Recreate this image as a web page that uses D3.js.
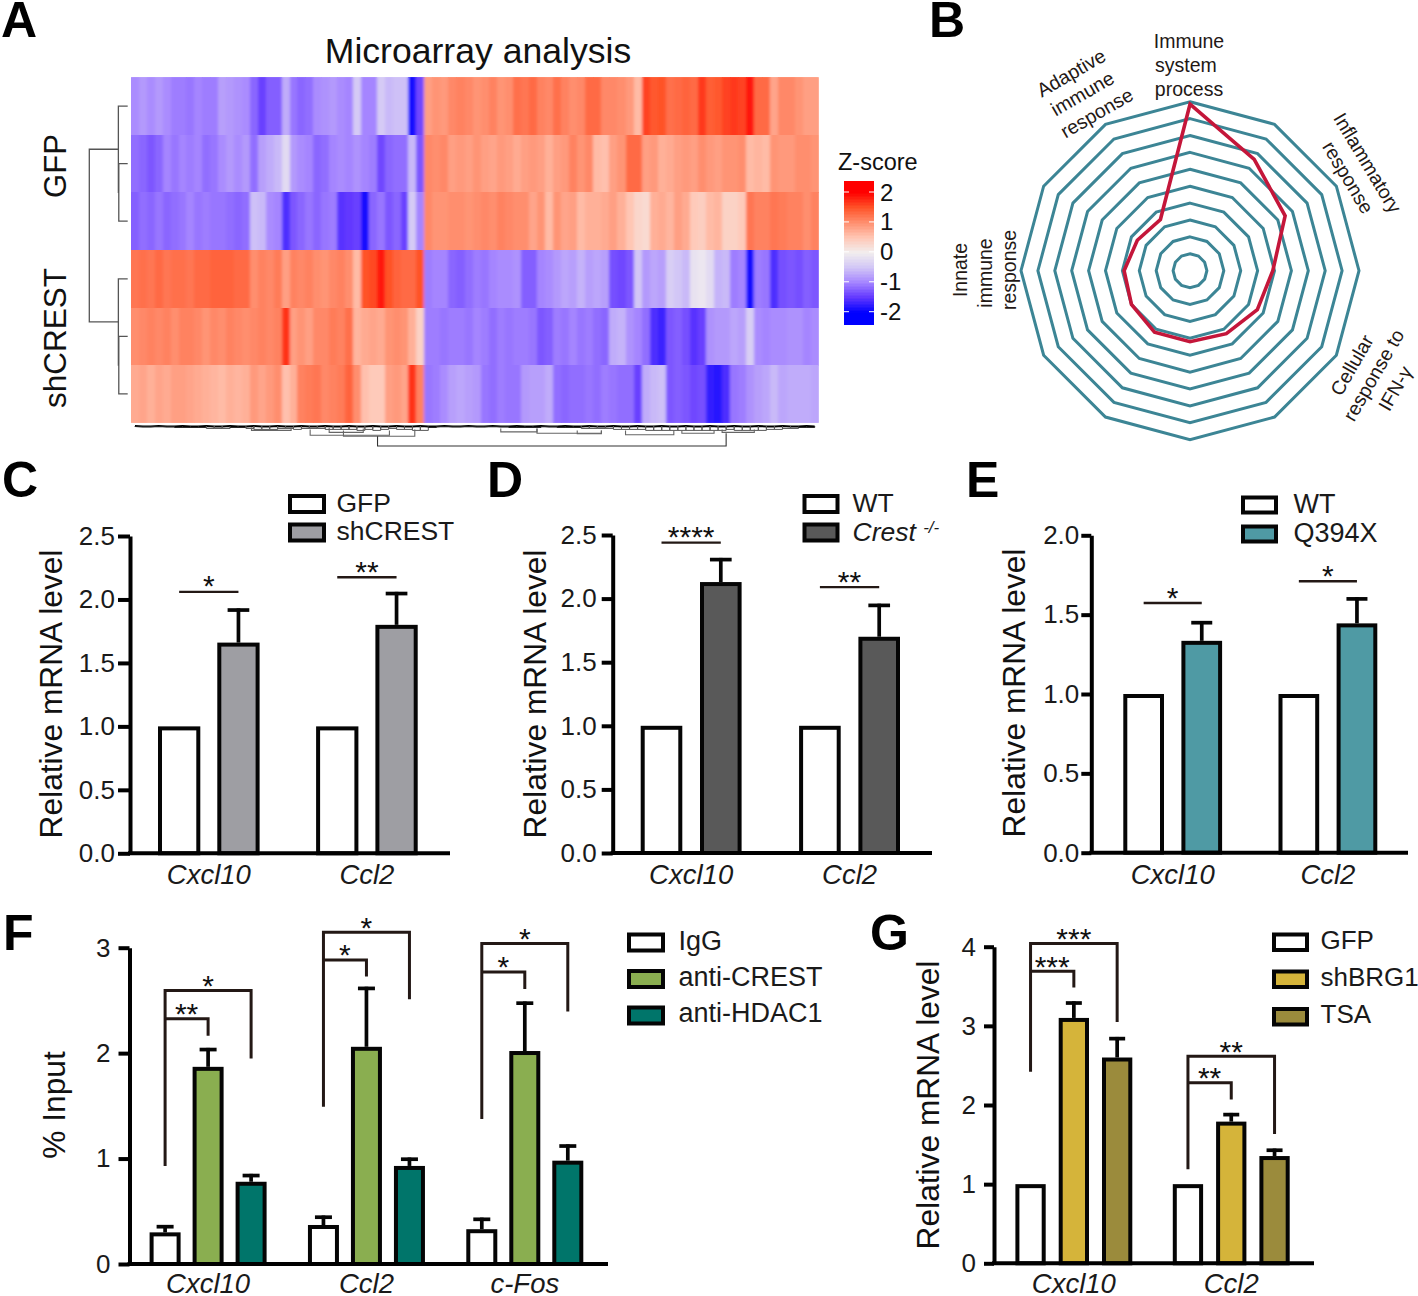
<!DOCTYPE html>
<html><head><meta charset="utf-8">
<script src="https://cdn.jsdelivr.net/npm/d3@7"></script>
<style>
html,body{margin:0;padding:0;background:#fff}
svg{display:block}
text{font-family:"Liberation Sans",Arial,sans-serif;fill:#1a1a1a}
</style></head><body>
<svg id="c" width="1418" height="1296"></svg>
<script>
// ---------- Heatmap data (z-scores, one value per gene bin) ----------
const heatRowLabels = ["GFP1","GFP2","GFP3","shCREST1","shCREST2","shCREST3"];
const heatGFP1 = [-0.95,-0.85,-0.95,-0.85,-0.95,-1.05,-1.05,-1.1,-1.0,-1.05,-1.05,-0.8,-0.85,-0.9,-0.95,-1.2,-1.45,-1.25,-1.25,-0.7,-1.1,-1.2,-1.15,-0.95,-0.9,-0.85,-0.95,-1.0,-0.45,-1.0,-1.0,-0.45,-0.6,-0.55,-0.55,-1.9,-1.4,
 0.85,0.95,0.9,1.05,1.1,1.05,0.95,1.0,1.1,0.95,1.0,1.25,1.2,1.3,1.1,1.05,1.25,1.1,1.0,1.05,1.3,1.3,1.05,1.05,1.0,0.9,0.6,1.6,1.45,1.5,1.25,1.3,1.35,1.3,1.65,1.4,1.45,1.6,1.65,1.6,1.85,1.3,1.3,0.8,1.05,1.05,0.95,0.85,0.85];
const heatGFP2 = [-1.15,-1.2,-1.3,-1.2,-1.0,-1.1,-1.0,-1.05,-1.0,-1.15,-1.1,-0.95,-0.85,-0.95,-0.85,-1.15,-0.8,-0.7,-0.6,-0.25,-0.85,-0.95,-1.0,-1.2,-1.15,-1.0,-0.95,-1.0,-0.9,-1.0,-1.05,-1.4,-1.2,-1.15,-1.15,-0.6,-1.3,
 1.05,1.0,1.05,0.85,0.9,0.85,0.95,0.85,0.8,0.9,0.85,0.75,0.85,0.9,0.85,0.7,0.85,0.9,1.1,0.95,1.05,0.6,0.55,0.85,0.95,1.3,1.3,0.85,0.9,0.7,0.75,0.85,0.9,0.85,1.0,0.9,0.85,0.95,0.95,1.0,0.6,0.65,0.6,0.95,0.9,0.9,1.0,1.0,0.95];
const heatGFP3 = [-1.25,-1.15,-1.2,-1.1,-1.2,-1.15,-1.1,-1.0,-1.1,-1.05,-1.1,-1.1,-1.15,-1.2,-1.15,-0.55,-0.6,-0.95,-1.0,-1.6,-1.3,-1.2,-1.1,-1.2,-1.1,-1.05,-1.55,-1.5,-1.45,-1.9,-1.2,-1.1,-1.3,-1.2,-1.45,-0.45,-1.0,
 1.05,0.95,0.95,1.0,1.0,0.95,1.0,1.05,1.0,1.1,1.05,1.0,1.0,0.8,0.95,0.6,0.95,0.8,0.85,0.6,0.7,0.7,0.75,0.85,0.7,0.5,0.3,0.25,0.7,0.75,0.65,0.85,0.75,0.45,0.4,0.6,0.65,0.35,0.35,0.45,1.2,1.1,1.1,1.2,1.15,1.1,1.1,1.0,1.1];
const heatSh1 = [1.2,1.25,1.2,1.3,1.2,1.25,1.25,1.2,1.3,1.3,1.35,1.35,1.35,1.3,1.3,1.0,1.1,1.05,1.15,0.85,1.1,1.05,1.1,1.0,0.95,1.05,1.1,1.0,0.6,1.5,1.55,1.85,1.5,1.35,1.3,1.3,1.5,
 -1.05,-1.0,-1.0,-1.2,-1.25,-1.15,-1.05,-1.1,-1.0,-0.95,-0.95,-0.9,-1.25,-1.25,-1.0,-0.95,-0.85,-0.75,-0.8,-0.65,-0.8,-0.75,-0.8,-1.35,-1.4,-1.3,-0.5,-0.85,-0.75,-0.8,-0.4,-0.5,-0.6,-0.15,-0.1,-0.25,-0.65,-0.6,-1.05,-1.0,-1.9,-1.05,-1.1,-1.6,-1.35,-1.3,-1.35,-1.25,-1.3];
const heatSh2 = [1.0,1.05,1.1,1.05,1.1,1.0,1.1,1.1,1.05,0.95,1.05,1.0,1.1,1.05,1.0,1.05,1.1,1.05,1.1,1.7,0.85,0.95,0.85,1.05,1.05,1.15,1.1,1.25,0.65,0.75,0.8,0.75,0.95,1.0,0.95,0.7,0.35,
 -1.05,-1.05,-1.1,-1.05,-1.05,-1.1,-1.0,-1.05,-1.15,-1.05,-1.1,-1.05,-1.05,-1.1,-1.3,-1.25,-1.05,-1.1,-1.0,-1.1,-1.05,-1.15,-1.2,-0.7,-0.65,-0.9,-1.0,-1.15,-1.6,-1.7,-1.3,-1.25,-1.35,-1.55,-1.45,-0.9,-0.85,-0.85,-0.75,-0.8,-0.4,-0.95,-1.0,-0.95,-0.95,-0.9,-0.9,-1.0,-0.95];
const heatSh3 = [0.75,0.8,0.7,0.8,0.75,0.85,0.85,0.8,0.75,0.7,0.65,0.6,0.7,0.65,0.7,0.9,0.8,0.9,1.0,0.55,0.7,1.1,1.15,1.2,1.05,1.1,1.15,1.35,1.0,0.55,0.45,0.45,0.85,0.9,0.8,1.7,1.1,
 -1.1,-1.05,-0.95,-0.8,-0.75,-0.8,-0.85,-1.1,-1.15,-1.05,-1.1,-1.1,-0.85,-0.8,-0.8,-0.7,-1.15,-1.2,-1.15,-1.15,-1.1,-1.15,-1.05,-1.1,-1.15,-1.15,-1.45,-0.7,-0.6,-0.55,-1.3,-1.25,-1.3,-1.4,-1.35,-1.75,-1.8,-1.6,-1.1,-1.05,-0.9,-0.8,-0.75,-0.6,-0.75,-0.7,-0.7,-0.7,-0.75];
const heatRows = [heatGFP1,heatGFP2,heatGFP3,heatSh1,heatSh2,heatSh3];
const zStops = [-2,-1.5,-1,-0.5,0,0.5,1,1.5,2];
const zColors = ["#0000ff","#6238ff","#a585ff","#d2c6f6","#f2eeee","#ffc6b4","#ff8e6e","#ff5228","#ff0000"];
const zTicks = [2,1,0,-1,-2];
// column-dendrogram: merge height of neighbouring leaves, and upper merges [from,to,height,leftDrop,rightDrop]
const leafHeights = [1,1,1,1,1,2,2,2,2,3,3,3,2,2,3,4,4,4,3,3,4,3,3,3,4,4,4,4,5,4,5,4,3,4,4,5,5,
 2,1,1,1,1,1,1,1,1,1,2,2,2,2,1,1,2,2,2,3,3,3,3,4,4,4,4,5,5,5,5,5,5,5,5,5,5,4,5,5,5,5,4,4,3,3,2,2,1];
const upperMerges = [[15.2,20.2,5,2,2],[25,29.3,7,2,3],[22.6,32.6,10,4,5],[26.8,35.8,11,5,4],
 [46.5,51,6.5,3,3],[51,59,8,3,5],[56,59,8.5,5,5],[62,68,9.5,5,5],[69,73,8,5,5],[74,78,7,4,4],
 [31.1,74.5,21,11,8]];
const rowDendro = [[0,1.5,11,0,6],[1,2,8,0,0],[3,4.5,11,0,6],[4,5,8,0,0]];
const rowTree = [1,4,28];

// ---------- Radar data ----------
const radarValues = [9.85,7.6,6.5,4.9,4.6,4.3,4.2,4.2,4.0,3.9,3.6,3.5];
const radarRings = [1,2,3,4,5,6,7,8,9,10];
const radarSpokes = [0,1,2,3,4,5,6,7,8,9,10,11];

// ---------- Bar panels data ----------
const cGroups=["Cxcl10","Ccl2"], cSeries=["GFP","shCREST"];
const cValues=[[1,1.66],[1,1.8]], cErrors=[[null,1.93],[null,2.06]], cTicks=[0,0.5,1,1.5,2,2.5];
const dGroups=["Cxcl10","Ccl2"], dSeries=["WT","Crest"];
const dValues=[[1,2.13],[1,1.7]], dErrors=[[null,2.32],[null,1.96]], dTicks=[0,0.5,1,1.5,2,2.5];
const eGroups=["Cxcl10","Ccl2"], eSeries=["WT","Q394X"];
const eValues=[[1,1.335],[1,1.445]], eErrors=[[null,1.46],[null,1.61]], eTicks=[0,0.5,1,1.5,2];
const fGroups=["Cxcl10","Ccl2","c-Fos"], fSeries=["IgG","anti-CREST","anti-HDAC1"];
const fValues=[[0.3,1.87,0.78],[0.37,2.06,0.93],[0.33,2.02,0.98]];
const fErrors=[[0.37,2.05,0.855],[0.46,2.63,1.01],[0.44,2.49,1.135]], fTicks=[0,1,2,3];
const gGroups=["Cxcl10","Ccl2"], gSeries=["GFP","shBRG1","TSA"];
const gValues=[[1,3.1,2.6],[1,1.79,1.355]], gErrors=[[null,3.31,2.86],[null,1.9,1.45]], gTicks=[0,1,2,3,4];

const cSig=[{g:0,a:0,b:1,y:2.06,s:"*"},{g:1,a:0,b:1,y:2.175,s:"**"}];
const dSig=[{g:0,a:0,b:1,y:2.44,s:"****"},{g:1,a:0,b:1,y:2.09,s:"**"}];
const eSig=[{g:0,a:0,b:1,y:1.573,s:"*"},{g:1,a:0,b:1,y:1.71,s:"*"}];
const fBrackets=[
 {g:0,b:2,top:2.593,left:0.93,right:1.95,s:"*",starAt:1},{g:0,b:1,top:2.325,left:2.325,right:2.166,s:"**",starAt:0.5},
 {g:1,b:2,top:3.147,left:1.492,right:2.511,s:"*",starAt:1},{g:1,b:1,top:2.884,left:2.884,right:2.726,s:"*",starAt:0.5},
 {g:2,b:2,top:3.039,left:1.376,right:2.394,s:"*",starAt:1},{g:2,b:1,top:2.77,left:2.77,right:2.609,s:"*",starAt:0.5}];
const gBrackets=[
 {g:0,b:2,top:4.04,left:2.42,right:3.05,s:"***",starAt:1},{g:0,b:1,top:3.69,left:3.69,right:3.485,s:"***",starAt:0.5},
 {g:1,b:2,top:2.617,left:1.187,right:1.633,s:"**",starAt:1},{g:1,b:1,top:2.28,left:2.28,right:2.07,s:"**",starAt:0.5}];

// ---------- Drawing ----------
const svg=d3.select("#c");
const ink="#050505", sigInk="#231815";
const addText=(t,x,y,size,o={})=>{
  const e=svg.append("text").attr("x",x).attr("y",y).attr("font-size",size).text(t);
  if(o.anchor)e.attr("text-anchor",o.anchor);
  if(o.weight)e.attr("font-weight",o.weight);
  if(o.style)e.attr("font-style",o.style);
  if(o.rotate!=null)e.attr("transform",`rotate(${o.rotate} ${x} ${y})`);
  if(o.central)e.attr("dominant-baseline","central");
  if(o.fill)e.style("fill",o.fill);
  return e;
};
// Panel letters
[["A",1,37],["B",929,37],["C",2,497],["D",487,497],["E",966,497],["F",3,950],["G",870,950]]
 .forEach(d=>addText(d[0],d[1],d[2],50,{weight:"bold",fill:"#000"}));

// ---- A: heatmap
const zColor=d3.scaleLinear().domain(zStops).range(zColors).clamp(true);
const nCols=heatRows[0].length, nLeft=37;
const xCol=d3.scaleLinear().domain([0,nLeft,nCols]).range([131,424.3,818.7]);
const yRow=d3.scaleBand().domain(d3.range(6)).range([77.3,422.7]);
const defs=svg.append("defs");
defs.append("filter").attr("id","soft").attr("filterUnits","userSpaceOnUse")
  .attr("x",120).attr("y",70).attr("width",710).attr("height",360)
  .append("feGaussianBlur").attr("stdDeviation","1.7 0.5");
defs.append("clipPath").attr("id","heatClip").append("rect")
  .attr("x",xCol(0)).attr("y",yRow(0)).attr("width",xCol(nCols)-xCol(0)).attr("height",yRow.bandwidth()*6);
const gHeat=svg.append("g").attr("clip-path","url(#heatClip)");
const gBase=gHeat.append("g").attr("shape-rendering","crispEdges");
const gSoft=gHeat.append("g").attr("filter","url(#soft)").attr("shape-rendering","crispEdges");
[gBase,gSoft].forEach(layer=>heatRows.forEach((row,r)=>{
  layer.selectAll(null).data(row).join("rect")
   .attr("x",(d,c)=>xCol(c)).attr("y",yRow(r))
   .attr("width",(d,c)=>xCol(c+1)-xCol(c)+0.4).attr("height",yRow.bandwidth()+0.4)
   .attr("fill",d=>zColor(d));
}));
addText("Microarray analysis",478,63,35.6,{anchor:"middle",fill:"#111"});
addText("GFP",66,166,31,{anchor:"middle",rotate:-90,fill:"#111"});
addText("shCREST",66,338,31.5,{anchor:"middle",rotate:-90,fill:"#111"});

// row dendrogram
const xTree=d3.scaleLinear().domain([0,28]).range([127.7,89.3]);
const rowCenter=i=>yRow(i)+yRow.bandwidth()/2;
const gTree=svg.append("g").attr("fill","none").attr("stroke","#555").attr("stroke-width",1.3);
[[1,2],[4,5]].forEach(p=>{
  const h=xTree(rowDendro[1][2]-1.5);
  gTree.append("path").attr("d",`M${xTree(0)},${rowCenter(p[0])}H${h}V${rowCenter(p[1])}H${xTree(0)}`);
  const mid=(rowCenter(p[0])+rowCenter(p[1]))/2, o=xTree(rowDendro[0][2]-4.2);
  gTree.append("path").attr("d",`M${xTree(0)},${rowCenter(p[0]-1)}H${o}V${mid}H${h}`);
});
const cl=i=>(rowCenter(i-1)+(rowCenter(i)+rowCenter(i+1))/2)/2;
gTree.append("path").attr("d",`M${xTree(rowDendro[0][2]-4.2)},${cl(rowTree[0])}H${xTree(rowTree[2])}V${cl(rowTree[1])}H${xTree(rowDendro[0][2]-4.2)}`);

// column dendrogram
const yD=d3.scaleLinear().domain([0,21]).range([425.5,446]);
const gD=svg.append("g").attr("fill","none");
gD.append("path").attr("stroke","#000").attr("stroke-width",2)
  .attr("d",d3.line().x((d,i)=>xCol(i+0.5)).y((d,i)=>yD(i%3===0?0.6:1))(leafHeights));
leafHeights.forEach((h,i)=>{
  if(i===nCols-1)return;
  gD.append("path").attr("stroke",h>2?"#555":"#222").attr("stroke-width",1)
   .attr("d",`M${xCol(i+0.5)},${yD(0.5)}V${yD(h)}H${xCol(i+1.5)}V${yD(0.5)}`);
});
upperMerges.forEach(m=>{
  gD.append("path").attr("stroke",m[2]>20?"#333":"#666").attr("stroke-width",1.1)
   .attr("d",`M${xCol(m[0])},${yD(m[3])}V${yD(m[2])}H${xCol(m[1])}V${yD(m[4])}`);
});

// colour key
const yKey=d3.scaleLinear().domain([2,-2]).range([192,311.7]);
const keySteps=d3.range(2.37,-2.42,-0.05);
svg.append("g").attr("shape-rendering","crispEdges").selectAll("rect").data(keySteps).join("rect")
  .attr("x",844).attr("width",30).attr("y",d=>yKey(d)).attr("height",yKey(0)-yKey(0.05)+0.5).attr("fill",d=>zColor(d));
zTicks.forEach(t=>{
  [[844,849],[869,874]].forEach(s=>svg.append("line").attr("x1",s[0]).attr("x2",s[1]).attr("y1",yKey(t)).attr("y2",yKey(t)).attr("stroke","#fff").attr("stroke-width",1));
  addText(t,880,yKey(t),24,{central:true,fill:"#111"});
});
addText("Z-score",838,170,23.5,{fill:"#111"});

// ---- B: radar
const rScale=d3.scaleLinear().domain([0,10]).range([0,169]);
const radar=svg.append("g").attr("transform","translate(1190,270.7)").attr("fill","none");
const spoke=d3.scaleLinear().domain([0,12]).range([0,2*Math.PI]);
const radial=d3.lineRadial().curve(d3.curveLinearClosed);
radar.selectAll(".ring").data(radarRings).join("path").attr("class","ring")
  .attr("d",k=>radial.angle((d,i)=>spoke(i)).radius(()=>rScale(k))(radarSpokes))
  .attr("stroke","#3c8595").attr("stroke-width",3);
radar.append("path").attr("d",radial.angle((d,i)=>spoke(i)).radius(d=>rScale(d))(radarValues))
  .attr("stroke","#c4163a").attr("stroke-width",3.6).attr("stroke-linejoin","miter");
const radarFont=19.5, rIn="#231815";
[["Immune",1189,41,0],["system",1186,65,0],["process",1189,89,0],
 ["Adaptive",1071,72.7,-30],["immune",1082.3,93.3,-30],["response",1096.7,112.7,-30],
 ["Inflammatory",1367.7,162.7,59],["response",1348.3,177.3,59],
 ["Cellular",1351.7,365,-60],["response to",1373.3,375,-60],["IFN-γ",1395,388.3,-60],
 ["Innate",960,270,-90],["immune",985,273,-90],["response",1009,270,-90]]
 .forEach(d=>addText(d[0],d[1],d[2],radarFont,{anchor:"middle",central:true,rotate:d[3],fill:rIn}));

// ---- Bar panel helper
function barPanel(o){
  const g=svg.append("g");
  const n=o.series.length, pairW=n*o.barW+(n-1)*o.gap, pitch=(o.barR-o.barL-pairW)/(o.groups.length-1);
  const x0=d3.scaleBand().domain(o.groups).range([o.barL,o.barR]).paddingInner(1-pairW/pitch).paddingOuter(0);
  const x1=d3.scaleBand().domain(d3.range(n)).range([0,pairW]).paddingInner(o.gap/(o.barW+o.gap));
  const y=d3.scaleLinear().domain([0,o.ticks[o.ticks.length-1]]).range([o.y0,o.yTop]);
  const sw=o.sw||4, cx=(gi,s)=>x0(o.groups[gi])+x1(s)+x1.bandwidth()/2;
  // bars and errors
  o.values.forEach((vals,gi)=>vals.forEach((v,s)=>{
    const e=o.errors[gi][s], X=cx(gi,s);
    if(e!=null){
      g.append("line").attr("x1",X).attr("x2",X).attr("y1",y(v)).attr("y2",y(e)).attr("stroke",ink).attr("stroke-width",sw-0.3);
      g.append("line").attr("x1",X-o.capW/2).attr("x2",X+o.capW/2).attr("y1",y(e)+1.7).attr("y2",y(e)+1.7).attr("stroke",ink).attr("stroke-width",sw-0.3);
    }
    g.append("rect").attr("x",X-x1.bandwidth()/2+sw/2).attr("y",y(v)+sw/2)
     .attr("width",x1.bandwidth()-sw).attr("height",o.y0-y(v)-sw/2)
     .attr("fill",o.fills[s]).attr("stroke",ink).attr("stroke-width",sw);
  }));
  // axes
  const ya=g.append("g").attr("transform",`translate(${o.axisX},0)`)
    .call(d3.axisLeft(y).tickValues(o.ticks).tickSize(o.tickLen).tickPadding(o.tickPad).tickSizeOuter(0).tickFormat(o.fmt));
  ya.selectAll("path,line").attr("stroke","#000").attr("stroke-width",sw);
  ya.selectAll("text").attr("font-size",o.tickFont||26).style("font-family",'"Liberation Sans",Arial,sans-serif').style("fill","#1a1a1a");
  const xa=g.append("g").attr("transform",`translate(0,${o.y0})`)
    .call(d3.axisBottom(x0).tickSize(0).tickPadding(0));
  xa.select(".domain").remove();
  xa.selectAll("text").attr("y",o.catDy).attr("dy",0).attr("font-size",27.5).attr("font-style","italic").style("font-family",'"Liberation Sans",Arial,sans-serif').style("fill","#1a1a1a");
  g.append("line").attr("x1",o.axisX-sw/2).attr("x2",o.xEnd).attr("y1",o.y0).attr("y2",o.y0).attr("stroke","#000").attr("stroke-width",sw);
  // title
  addText(o.title,o.titleX,o.titleY,31.7,{anchor:"middle",rotate:-90,fill:"#111"});
  // significance lines
  (o.sig||[]).forEach(s=>{
    const a=cx(s.g,s.a), b=cx(s.g,s.b);
    g.append("line").attr("x1",a).attr("x2",b).attr("y1",y(s.y)).attr("y2",y(s.y)).attr("stroke",sigInk).attr("stroke-width",2.4);
    star(s.s,(a+b)/2,y(s.y)-12);
  });
  // brackets
  (o.brackets||[]).forEach(s=>{
    const a=cx(s.g,0), b=cx(s.g,s.b);
    g.append("path").attr("fill","none").attr("stroke",sigInk).attr("stroke-width",3)
     .attr("d",`M${a},${y(s.left)}V${y(s.top)}H${b}V${y(s.right)}`);
    const at=s.starAt===1?cx(s.g,1):(cx(s.g,0)+cx(s.g,1))/2;
    star(s.s,at,y(s.top)-11);
  });
  // legend
  o.series.forEach((name,i)=>{
    const L=o.legend, fs=L.fs||26.5;
    g.append("rect").attr("x",L.x+2).attr("y",L.ys[i]+2).attr("width",L.w-4).attr("height",L.h-4)
      .attr("fill",o.fills[i]).attr("stroke",ink).attr("stroke-width",4);
    if(name==="Crest"){
      const t=addText("Crest ",L.tx,L.bs[i],fs,{style:"italic"});
      t.append("tspan").attr("font-size",17).attr("dy",-8).text("-/-");
    } else addText(name,L.tx,L.bs[i],fs,{});
  });
}
function star(s,x,cy){ addText(s,x,cy+16.5,30,{anchor:"middle",fill:"#111"}); }
const f1=d3.format(".1f"), f0=d3.format("d");

barPanel({groups:cGroups,series:cSeries,values:cValues,errors:cErrors,ticks:cTicks,fmt:f1,fills:["#fff","#9e9ea3"],
 barL:158,barR:417.7,barW:42.3,gap:17,capW:21.7,y0:853.3,yTop:536,axisX:130,xEnd:450,tickLen:12,tickPad:3,catDy:31,
 title:"Relative mRNA level",titleX:62,titleY:694,sig:cSig,
 legend:{x:288,w:38,h:20,ys:[494,522.5],tx:336.5,bs:[512,539.5]}});
barPanel({groups:dGroups,series:dSeries,values:dValues,errors:dErrors,ticks:dTicks,fmt:f1,fills:["#fff","#595959"],
 barL:640.7,barR:900,barW:41.6,gap:17.7,capW:21.7,y0:853,yTop:535,axisX:612.7,xEnd:932,tickLen:11,tickPad:5,catDy:31,
 title:"Relative mRNA level",titleX:546,titleY:694,sig:dSig,
 legend:{x:802.5,w:37,h:20,ys:[494,522.5],tx:852.5,bs:[512,540.5]}});
barPanel({groups:eGroups,series:eSeries,values:eValues,errors:eErrors,ticks:eTicks,fmt:f1,fills:["#fff","#4f9aa4"],
 barL:1123.3,barR:1377.3,barW:40.7,gap:17.4,capW:21,y0:852.7,yTop:535.3,axisX:1091.3,xEnd:1408,tickLen:10,tickPad:2,catDy:31,
 title:"Relative mRNA level",titleX:1025,titleY:693,sig:eSig,
 legend:{x:1241,w:37,h:19,ys:[495.5,524.5],tx:1293.5,bs:[512.5,541.5],fs:27}});
barPanel({groups:fGroups,series:fSeries,values:fValues,errors:fErrors,ticks:fTicks,fmt:f0,fills:["#fff","#8aae50","#00756a"],
 barL:149.6,barR:583.3,barW:31,gap:12,capW:17,y0:1264,yTop:947.7,axisX:129.5,xEnd:608,tickLen:11,tickPad:8,catDy:29,
 title:"% Input",titleX:65,titleY:1105,brackets:fBrackets,
 legend:{x:627,w:38,h:20,ys:[932.5,969,1005.5],tx:678.5,bs:[949.5,985.5,1021.5],fs:27}});
barPanel({groups:gGroups,series:gSeries,values:gValues,errors:gErrors,ticks:gTicks,fmt:f0,fills:["#fff","#d5b43a","#9b8b3c"],
 barL:1015.4,barR:1289.7,barW:30.3,gap:13,capW:16,y0:1263.3,yTop:946.7,axisX:994,xEnd:1314,tickLen:10,tickPad:8,catDy:30,
 title:"Relative mRNA level",titleX:939,titleY:1105,brackets:gBrackets,
 legend:{x:1272,w:37,h:19.5,ys:[932.5,969.5,1007],tx:1320.5,bs:[949,986,1022.5],fs:26}});
</script>
</body></html>
